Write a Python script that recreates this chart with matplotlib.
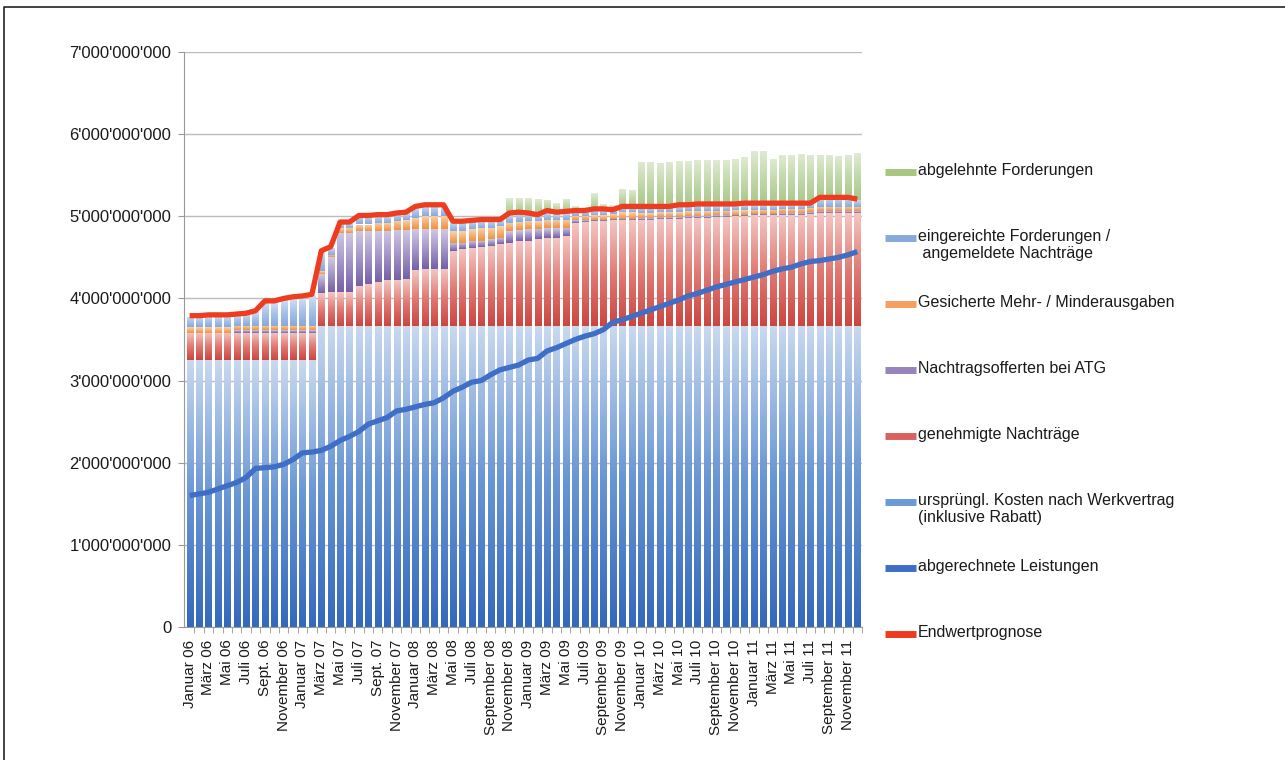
import numpy as np
import matplotlib
matplotlib.use("Agg")
import matplotlib.pyplot as plt
from matplotlib.colors import LinearSegmentedColormap
from matplotlib.lines import Line2D
from matplotlib.ticker import FixedLocator, FuncFormatter

plt.rcParams["font.family"] = ["Liberation Sans", "DejaVu Sans"]

# monthly values Jan 2006 .. Dec 2011, in CHF billion (one row per year)
month_labels = [
    "Januar 06", "März 06", "Mai 06", "Juli 06", "Sept. 06", "November 06",
    "Januar 07", "März 07", "Mai 07", "Juli 07", "Sept. 07", "November 07",
    "Januar 08", "März 08", "Mai 08", "Juli 08", "September 08", "November 08",
    "Januar 09", "März 09", "Mai 09", "Juli 09", "September 09", "November 09",
    "Januar 10", "März 10", "Mai 10", "Juli 10", "September 10", "November 10",
    "Januar 11", "März 11", "Mai 11", "Juli 11", "September 11", "November 11",
]

base_cost = [
    3.25, 3.25, 3.25, 3.25, 3.25, 3.25, 3.25, 3.25, 3.25, 3.25, 3.25, 3.25,
    3.25, 3.25, 3.67, 3.67, 3.67, 3.67, 3.67, 3.67, 3.67, 3.67, 3.67, 3.67,
    3.67, 3.67, 3.67, 3.67, 3.67, 3.67, 3.67, 3.67, 3.67, 3.67, 3.67, 3.67,
    3.67, 3.67, 3.67, 3.67, 3.67, 3.67, 3.67, 3.67, 3.67, 3.67, 3.67, 3.67,
    3.67, 3.67, 3.67, 3.67, 3.67, 3.67, 3.67, 3.67, 3.67, 3.67, 3.67, 3.67,
    3.67, 3.67, 3.67, 3.67, 3.67, 3.67, 3.67, 3.67, 3.67, 3.67, 3.67, 3.67,
]
approved = [
    0.33, 0.33, 0.33, 0.33, 0.33, 0.33, 0.33, 0.33, 0.33, 0.33, 0.33, 0.33,
    0.33, 0.33, 0.40, 0.41, 0.41, 0.41, 0.48, 0.51, 0.53, 0.55, 0.55, 0.57,
    0.68, 0.69, 0.69, 0.69, 0.91, 0.93, 0.94, 0.95, 0.97, 0.99, 1.01, 1.03,
    1.03, 1.05, 1.07, 1.07, 1.09, 1.25, 1.26, 1.27, 1.27, 1.28, 1.28, 1.28,
    1.29, 1.29, 1.30, 1.30, 1.30, 1.31, 1.31, 1.31, 1.32, 1.32, 1.33, 1.33,
    1.34, 1.34, 1.34, 1.35, 1.35, 1.35, 1.36, 1.37, 1.37, 1.37, 1.37, 1.37,
]
offers_atg = [
    0.00, 0.00, 0.00, 0.00, 0.00, 0.03, 0.03, 0.03, 0.03, 0.03, 0.03, 0.03,
    0.03, 0.03, 0.23, 0.42, 0.72, 0.72, 0.67, 0.64, 0.62, 0.60, 0.61, 0.59,
    0.49, 0.48, 0.48, 0.48, 0.10, 0.08, 0.09, 0.08, 0.08, 0.08, 0.14, 0.13,
    0.14, 0.13, 0.12, 0.12, 0.10, 0.03, 0.02, 0.02, 0.02, 0.02, 0.02, 0.02,
    0.02, 0.02, 0.02, 0.02, 0.02, 0.02, 0.02, 0.02, 0.02, 0.02, 0.02, 0.02,
    0.02, 0.02, 0.02, 0.02, 0.02, 0.02, 0.02, 0.02, 0.02, 0.02, 0.02, 0.02,
]
secured = [
    0.07, 0.07, 0.07, 0.07, 0.07, 0.05, 0.05, 0.05, 0.05, 0.05, 0.05, 0.05,
    0.05, 0.05, 0.03, 0.03, 0.06, 0.06, 0.08, 0.08, 0.10, 0.10, 0.11, 0.12,
    0.14, 0.16, 0.16, 0.16, 0.14, 0.14, 0.14, 0.16, 0.14, 0.14, 0.10, 0.10,
    0.10, 0.09, 0.10, 0.10, 0.10, 0.05, 0.05, 0.05, 0.06, 0.06, 0.08, 0.08,
    0.06, 0.06, 0.06, 0.06, 0.06, 0.06, 0.06, 0.06, 0.06, 0.06, 0.06, 0.06,
    0.05, 0.05, 0.05, 0.05, 0.05, 0.05, 0.05, 0.05, 0.05, 0.05, 0.05, 0.05,
]
submitted = [
    0.13, 0.13, 0.14, 0.14, 0.14, 0.14, 0.15, 0.18, 0.30, 0.30, 0.33, 0.35,
    0.36, 0.38, 0.24, 0.09, 0.06, 0.06, 0.10, 0.10, 0.09, 0.09, 0.09, 0.09,
    0.13, 0.13, 0.13, 0.13, 0.11, 0.11, 0.10, 0.09, 0.09, 0.07, 0.11, 0.11,
    0.09, 0.08, 0.09, 0.08, 0.09, 0.06, 0.06, 0.06, 0.06, 0.05, 0.06, 0.06,
    0.08, 0.08, 0.07, 0.07, 0.08, 0.07, 0.08, 0.08, 0.07, 0.07, 0.06, 0.07,
    0.07, 0.07, 0.07, 0.06, 0.06, 0.06, 0.06, 0.11, 0.11, 0.11, 0.11, 0.09,
]
rejected = [
    0.00, 0.00, 0.00, 0.00, 0.00, 0.00, 0.00, 0.00, 0.00, 0.00, 0.00, 0.00,
    0.00, 0.00, 0.00, 0.00, 0.00, 0.00, 0.00, 0.00, 0.00, 0.00, 0.00, 0.00,
    0.00, 0.00, 0.00, 0.00, 0.00, 0.00, 0.00, 0.00, 0.00, 0.00, 0.19, 0.18,
    0.19, 0.19, 0.15, 0.12, 0.16, 0.06, 0.04, 0.21, 0.07, 0.06, 0.22, 0.21,
    0.54, 0.54, 0.53, 0.54, 0.54, 0.54, 0.54, 0.54, 0.54, 0.55, 0.56, 0.57,
    0.65, 0.65, 0.55, 0.60, 0.60, 0.61, 0.59, 0.53, 0.53, 0.52, 0.53, 0.57,
]
billed = [
    1.60, 1.62, 1.64, 1.68, 1.72, 1.76, 1.82, 1.93, 1.94, 1.95, 1.98, 2.04,
    2.12, 2.13, 2.15, 2.20, 2.27, 2.32, 2.38, 2.47, 2.51, 2.55, 2.63, 2.65,
    2.68, 2.71, 2.73, 2.79, 2.87, 2.92, 2.98, 3.00, 3.07, 3.13, 3.16, 3.19,
    3.25, 3.27, 3.36, 3.40, 3.45, 3.50, 3.54, 3.57, 3.62, 3.71, 3.74, 3.78,
    3.82, 3.86, 3.90, 3.94, 3.98, 4.03, 4.06, 4.10, 4.14, 4.17, 4.20, 4.23,
    4.26, 4.29, 4.33, 4.36, 4.38, 4.42, 4.45, 4.46, 4.48, 4.50, 4.53, 4.57,
]
forecast = [
    3.79, 3.79, 3.80, 3.80, 3.80, 3.81, 3.82, 3.85, 3.97, 3.97, 4.00, 4.02,
    4.03, 4.05, 4.58, 4.63, 4.93, 4.93, 5.01, 5.01, 5.02, 5.02, 5.04, 5.05,
    5.12, 5.14, 5.14, 5.14, 4.94, 4.94, 4.95, 4.96, 4.96, 4.96, 5.04, 5.05,
    5.04, 5.02, 5.07, 5.05, 5.06, 5.07, 5.07, 5.09, 5.09, 5.08, 5.12, 5.12,
    5.12, 5.12, 5.12, 5.12, 5.14, 5.14, 5.15, 5.15, 5.15, 5.15, 5.15, 5.16,
    5.16, 5.16, 5.16, 5.16, 5.16, 5.16, 5.16, 5.23, 5.23, 5.23, 5.23, 5.21,
]

SCALE = 1e9
W, H = 1285, 760

# stacked bars, bottom to top: label, values, gradient stops, legend colour
stack = [
    ("ursprüngl. Kosten nach Werkvertrag\n(inklusive Rabatt)", base_cost,
     ["#3569bc", "#6a97d6", "#c8d8ef"], "#6d9ad6"),
    ("genehmigte Nachträge", approved, ["#cc4641", "#e27a74", "#f4c6c2"], "#d9625f"),
    ("Nachtragsofferten bei ATG", offers_atg, ["#7460a8", "#a495c8", "#d0c8e4"], "#9585ba"),
    ("Gesicherte Mehr- / Minderausgaben", secured, ["#f0923f", "#f5b077", "#fad4ae"], "#f4a061"),
    ("eingereichte Forderungen /\n angemeldete Nachträge", submitted,
     ["#86a9de", "#a9c2e8", "#d6e2f4"], "#87a9dc"),
    ("abgelehnte Forderungen", rejected, ["#a9c88a", "#c2d8aa", "#e0ebd3"], "#a9c77f"),
]


def gradient_bars(ax, x, heights, bottoms, stops, width=0.64):
    cmap = LinearSegmentedColormap.from_list("seg", stops)
    grad = np.linspace(0, 1, 64).reshape(-1, 1)
    bars = ax.bar(x, heights, width, bottom=bottoms, color="none", linewidth=0, zorder=2)
    for b in bars:
        if b.get_height() <= 0:
            continue
        x0, y0 = b.get_xy()
        im = ax.imshow(grad, cmap=cmap, origin="lower", aspect="auto",
                       interpolation="bilinear", zorder=2,
                       extent=(x0, x0 + b.get_width(), y0, y0 + b.get_height()))
        im.set_clip_path(b)


fig = plt.figure(figsize=(W / 100, H / 100), dpi=100)
ax = fig.add_axes([184 / W, 1 - 627 / H, 678 / W, 575 / H])

x = np.arange(len(base_cost))
bottom = np.zeros(len(x))
for label, vals, stops, _ in stack:
    v = np.array(vals) * SCALE
    gradient_bars(ax, x, v, bottom, stops)
    bottom += v

ax.plot(x, np.array(billed) * SCALE, color="#3f6ec6", lw=3.8, zorder=4,
        solid_capstyle="butt", solid_joinstyle="round")
ax.plot(x, np.array(forecast) * SCALE, color="#f03c1e", lw=3.8, zorder=5,
        solid_capstyle="butt", solid_joinstyle="round")

ax.set_xlim(-0.6, 71.5)
ax.set_ylim(0, 7 * SCALE)
ax.set_yticks(np.arange(0, 8) * SCALE)
ax.yaxis.set_major_formatter(FuncFormatter(lambda v, _: f"{v:,.0f}".replace(",", "'")))
ax.yaxis.grid(True, color="#bcbcbc", lw=1.0, zorder=0)
ax.set_axisbelow(True)

ax.xaxis.set_major_locator(FixedLocator(x[::2]))
ax.set_xticklabels(month_labels, rotation=90)
ax.xaxis.set_minor_locator(FixedLocator(x + 0.5))
ax.tick_params(axis="x", which="major", length=0, pad=9, labelsize=11, colors="#1a1a1a")
ax.tick_params(axis="x", which="minor", length=4, color="#999999")
ax.tick_params(axis="y", length=4, pad=5, labelsize=12, color="#999999", labelcolor="#1a1a1a")

for side in ("top", "right"):
    ax.spines[side].set_visible(False)
for side in ("left", "bottom"):
    ax.spines[side].set_color("#999999")

# legend: line handles left of the labels, one entry every 66 px
legend = [(lab, col, 5) for lab, _, _, col in stack[::-1]]
legend += [("abgerechnete Leistungen", "#3f6ec6", 5), ("Endwertprognose", "#f03c1e", 5)]
for k, (lab, col, lw) in enumerate(legend):
    y = 1 - (172 + 66.0 * k) / H
    fig.add_artist(Line2D([885 / W, 916 / W], [y, y], color=col, lw=lw,
                          solid_capstyle="butt", transform=fig.transFigure))
    fig.text(918 / W, y + 9 / H, lab, fontsize=11.5, color="#1a1a1a", va="top",
             ha="left", linespacing=1.15)

# thin frame round the graphic
fig.add_artist(Line2D([4 / W, 4 / W, 1], [0, 1 - 7 / H, 1 - 7 / H], color="#222222",
                      lw=1.2, transform=fig.transFigure))

fig.savefig("out.png", dpi=100)
